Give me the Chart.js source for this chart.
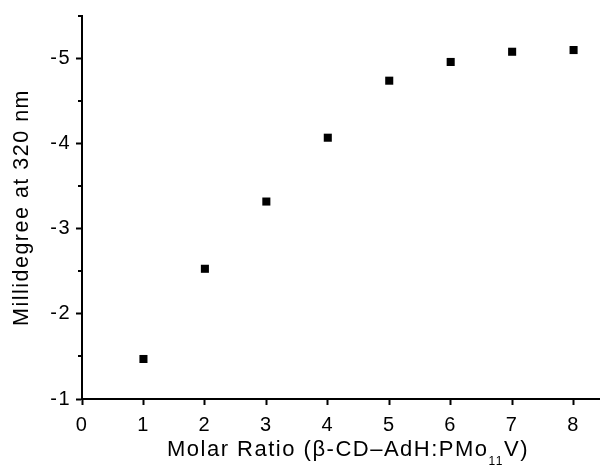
<!DOCTYPE html>
<html>
<head>
<meta charset="utf-8">
<script src="https://cdn.jsdelivr.net/npm/chart.js@4/dist/chart.umd.min.js"></script>
<style>
  html, body { margin: 0; padding: 0; background: #fff; overflow: hidden; }
  #wrap { width: 600px; height: 466px; }
</style>
</head>
<body>
<div id="wrap"><canvas id="cdChart"></canvas></div>
<script>
// molar ratio vs CD signal
var ratios = [1, 2, 3, 4, 5, 6, 7, 8];
var millideg = [-1.47, -2.53, -3.32, -4.07, -4.74, -4.96, -5.08, -5.10];
var yTitle = "Millidegree at 320 nm";
var xTitleParts = ["Molar Ratio (\u03B2-CD\u2013AdH:PMo", "11", "V)"];

var FONT = "'Liberation Sans', Arial, sans-serif";
var SPACING = '1.5px'; // the original lettering is a bit wider than Arial

// minor ticks on y axis + x title with subscript
Chart.register({
    id: 'extras',
    beforeDraw: function (chart) {
        chart.ctx.letterSpacing = SPACING;
    },
    afterDraw: function (chart) {
        var ctx = chart.ctx;
        var y = chart.scales.y;
        var area = chart.chartArea;
        ctx.save();
        ctx.strokeStyle = '#000';
        ctx.lineWidth = 2;
        for (var v = -1.5; v >= y.min - 0.001; v -= 1) {
            var py = Math.round(y.getPixelForValue(v));
            ctx.beginPath();
            ctx.moveTo(area.left - 4, py);
            ctx.lineTo(area.left, py);
            ctx.stroke();
        }
        // x title
        ctx.fillStyle = '#000';
        ctx.textBaseline = 'alphabetic';
        ctx.textAlign = 'left';
        ctx.letterSpacing = SPACING;
        ctx.font = '22px ' + FONT;
        var w0 = ctx.measureText(xTitleParts[0]).width;
        var w2 = ctx.measureText(xTitleParts[2]).width;
        ctx.font = '12px ' + FONT;
        var w1 = ctx.measureText(xTitleParts[1]).width;
        var total = w0 + w1 + w2;
        var x0 = 348 - total / 2;
        var base = 456;
        ctx.font = '22px ' + FONT;
        ctx.fillText(xTitleParts[0], x0, base);
        ctx.font = '12px ' + FONT;
        ctx.fillText(xTitleParts[1], x0 + w0, base + 9);
        ctx.font = '22px ' + FONT;
        ctx.fillText(xTitleParts[2], x0 + w0 + w1, base);
        ctx.restore();
    }
});

var ctxS = document.getElementById("cdChart").getContext('2d');
var cdChart = new Chart(ctxS, {
    type: 'scatter',
    data: {
        labels: ratios,
        datasets: [{
            data: ratios.map(function (r, i) { return { x: r, y: millideg[i] }; }),
            pointStyle: 'rect',
            pointRadius: 5.7,
            pointBorderWidth: 0,
            backgroundColor: '#000',
            borderColor: '#000'
        }]
    },
    options: {
        responsive: true,
        maintainAspectRatio: false,
        animation: false,
        layout: { autoPadding: false, padding: { top: 16, right: 0, left: 0, bottom: 0 } },
        plugins: {
            legend: { display: false },
            tooltip: { enabled: false }
        },
        scales: {
            x: {
                type: 'linear',
                min: 0,
                max: 8.43,
                afterFit: function (scale) {
                    scale.height = 67;
                    scale.paddingLeft = 0;
                    scale.paddingRight = 0;
                },
                ticks: {
                    stepSize: 1,
                    includeBounds: false,
                    padding: 8,
                    color: '#000',
                    maxRotation: 0,
                    font: { family: FONT, size: 20 }
                },
                grid: {
                    drawOnChartArea: false,
                    tickLength: 6,
                    tickWidth: 2,
                    tickColor: '#000'
                },
                border: { display: true, color: '#000', width: 2 }
            },
            y: {
                type: 'linear',
                reverse: true,
                min: -5.5,
                max: -1,
                afterFit: function (scale) {
                    scale.width = 82;
                    scale.paddingTop = 0;
                    scale.paddingBottom = 0;
                },
                ticks: {
                    stepSize: 1,
                    includeBounds: false,
                    padding: 5,
                    color: '#000',
                    font: { family: FONT, size: 20 }
                },
                title: {
                    display: true,
                    text: yTitle,
                    color: '#000',
                    padding: { top: 9, bottom: 0 },
                    font: { family: FONT, size: 21.5 }
                },
                grid: {
                    drawOnChartArea: false,
                    tickLength: 6,
                    tickWidth: 2,
                    tickColor: '#000'
                },
                border: { display: true, color: '#000', width: 2 }
            }
        }
    }
});
</script>
</body>
</html>
